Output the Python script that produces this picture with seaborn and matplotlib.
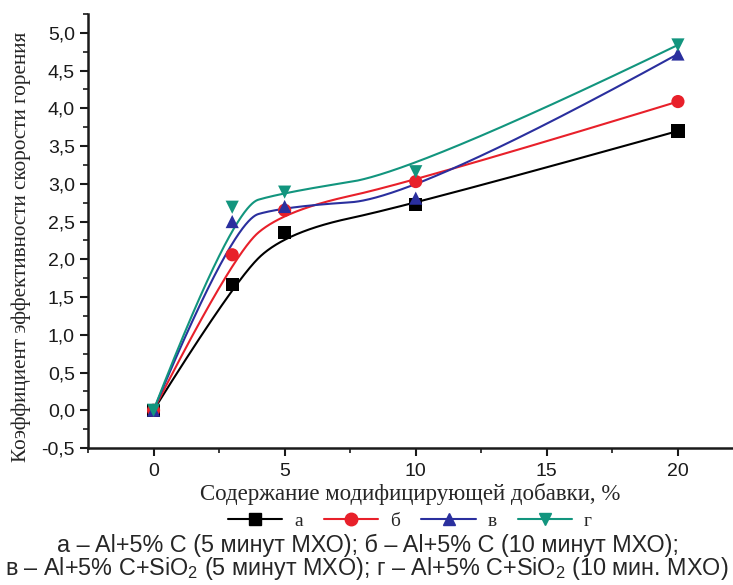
import numpy as np
import pandas as pd
import matplotlib
matplotlib.use("Agg")
import matplotlib.pyplot as plt
from matplotlib.lines import Line2D
from matplotlib.ticker import MultipleLocator, FuncFormatter
import seaborn as sns

# ---- data ----
x_vals = [0, 3, 5, 10, 20]
series_names = ["а", "б", "в", "г"]
y_a = [0.0, 1.67, 2.36, 2.73, 3.70]
y_b = [0.0, 2.06, 2.65, 3.03, 4.09]
y_v = [0.0, 2.50, 2.70, 2.81, 4.72]
y_g = [0.0, 2.69, 2.89, 3.16, 4.84]
x_ticks = [0, 5, 10, 15, 20]
y_ticks = [-0.5, 0.0, 0.5, 1.0, 1.5, 2.0, 2.5, 3.0, 3.5, 4.0, 4.5, 5.0]

colors = ["#000000", "#e8202a", "#2a2f9e", "#12957e"]
markers = ["s", "o", "^", "v"]

sns.set_style("ticks")
plt.rcParams["font.family"] = ["Liberation Sans", "DejaVu Sans"]
plt.rcParams["mathtext.fontset"] = "custom"
plt.rcParams["mathtext.rm"] = "Liberation Sans"
plt.rcParams["mathtext.it"] = "Liberation Sans:italic"


def bspline(px, py, n=600, k=2):
    """Clamped B-spline using data points as control points (Origin-style)."""
    P = np.column_stack([px, py]).astype(float)
    m = len(P)
    knots = np.concatenate([np.zeros(k), np.linspace(0, 1, m - k + 1), np.ones(k)])
    ts = np.linspace(0, 1, n)
    out = []
    for t in ts:
        if t >= 1.0:
            out.append(P[-1])
            continue
        s = np.searchsorted(knots, t, side="right") - 1
        d = [P[j + s - k].copy() for j in range(k + 1)]
        for r in range(1, k + 1):
            for j in range(k, r - 1, -1):
                i = j + s - k
                a = (t - knots[i]) / (knots[i + 1 + k - r] - knots[i])
                d[j] = (1 - a) * d[j - 1] + a * d[j]
        out.append(d[k])
    out = np.array(out)
    return out[:, 0], out[:, 1]


all_y = [y_a, y_b, y_v, y_g]
pts = pd.DataFrame(
    [(x, y, nm) for nm, ys in zip(series_names, all_y) for x, y in zip(x_vals, ys)],
    columns=["x", "y", "series"],
)

fig = plt.figure(figsize=(7.33, 5.85), dpi=100)
ax = fig.add_axes([88 / 733, (585 - 448) / 585, (733 - 88) / 733, (448 - 14) / 585])

for nm, ys, c in zip(series_names, all_y, colors):
    cx, cy = bspline(x_vals, ys)
    cdf = pd.DataFrame({"x": cx, "y": cy})
    sns.lineplot(data=cdf, x="x", y="y", color=c, estimator=None, sort=False,
                 lw=1.5, ax=ax, legend=False)
for nm, c, mk in zip(series_names, colors, markers):
    sub = pts[pts["series"] == nm]
    sns.scatterplot(data=sub, x="x", y="y", color=c, marker=mk, s=90,
                    edgecolor="none", ax=ax, legend=False, zorder=5)

ax.set_xlim(-2.5, 22.1)
ax.set_ylim(-0.5, 5.25)
ax.set_xticks(x_ticks)
ax.set_yticks(y_ticks)
ax.xaxis.set_minor_locator(MultipleLocator(2.5))
ax.yaxis.set_minor_locator(MultipleLocator(0.25))
ax.yaxis.set_major_formatter(FuncFormatter(lambda v, p: f"{v:.1f}".replace(".", ",").replace("-0,0", "0,0")))
ax.tick_params(axis="both", which="major", direction="out", length=6, width=1.5, labelsize=14, colors="#1a1a1a")
ax.tick_params(axis="both", which="minor", direction="out", length=3.5, width=1.2, colors="#1a1a1a")
ax.tick_params(axis="x", pad=5)
for sp in ["top", "right"]:
    ax.spines[sp].set_visible(False)
for sp in ["left", "bottom"]:
    ax.spines[sp].set_linewidth(1.8)
    ax.spines[sp].set_color("#1a1a1a")

serif = ["Liberation Serif", "DejaVu Serif"]
ax.set_xlabel("Содержание модифицирующей добавки, %", fontsize=16.5, family=serif, labelpad=2)
ax.set_ylabel("Коэффициент эффективности скорости горения", fontsize=15.3, family=serif)
ax.yaxis.set_label_coords(-(88 - 31) / 645, (448 - 247) / 434)

handles = [Line2D([0], [0], color=c, marker=mk, markersize=9, lw=1.5) for c, mk in zip(colors, markers)]
leg = fig.legend(handles, series_names, loc="center", bbox_to_anchor=(410 / 733, 1 - 521 / 585),
                 ncol=4, frameon=False, handlelength=2.8, columnspacing=1.1, handletextpad=0.6,
                 prop={"family": serif, "size": 14})

fig.text(368 / 733, 1 - 545 / 585, "а – Al+5% С (5 минут МХО); б – Al+5% С (10 минут МХО);",
         ha="center", va="center", fontsize=16.8)
fig.text(367 / 733, 1 - 569 / 585, "в – Al+5% С+SiO$_2$ (5 минут МХО); г – Al+5% С+SiO$_2$ (10 мин. МХО)",
         ha="center", va="center", fontsize=16.8)

fig.savefig("out.png", dpi=100)
